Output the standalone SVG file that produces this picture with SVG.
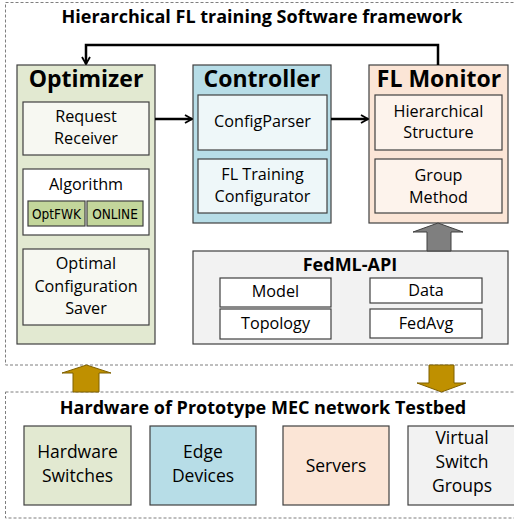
<svg xmlns="http://www.w3.org/2000/svg" width="514" height="520" viewBox="0 0 514 520">
<defs>
<marker id="chev" viewBox="0 0 10 10" refX="9" refY="5" markerWidth="10" markerHeight="10" markerUnits="userSpaceOnUse" orient="auto">
<path d="M2,1 L9,5 L2,9" fill="none" stroke="#000" stroke-width="1.8"/>
</marker>
<style>
text{font-family:"Open Sans","Liberation Sans",sans-serif;fill:#000;text-anchor:middle}
.t{font-weight:bold;font-size:18px}
.h{font-weight:bold;font-size:23px}
.s{font-size:16.2px}
.b{font-size:17.5px}
.o{font-size:13.5px;font-family:"Liberation Sans Narrow","DejaVu Sans Condensed",sans-serif}
.dash{fill:none;stroke:#7f7f7f;stroke-width:1;stroke-dasharray:3 2}
.box{stroke:#404040;stroke-width:1.2}
.conn{fill:none;stroke:#000;stroke-width:2.5}
</style>
</defs>
<rect class="dash" x="5.5" y="2.5" width="520" height="362.5"/>
<rect class="dash" x="5.5" y="392" width="520" height="126"/>
<text class="t" x="262" y="23">Hierarchical FL training Software framework</text>
<text class="t" x="263" y="414">Hardware of Prototype MEC network Testbed</text>

<g id="optimizer">
<rect class="box" x="17" y="65" width="138" height="279" fill="#e2e9d1"/>
<text class="h" x="86" y="87">Optimizer</text>
<rect class="box" x="23" y="102" width="126" height="53" fill="#f7f8f2"/>
<text class="s" x="86" y="122">Request</text>
<text class="s" x="86" y="144">Receiver</text>
<rect class="box" x="23" y="169" width="126" height="66" fill="#ffffff"/>
<text class="s" x="86" y="190">Algorithm</text>
<rect class="box" x="28" y="201" width="57" height="25" fill="#c3d69b"/>
<text class="o" x="56.5" y="218.5">OptFWK</text>
<rect class="box" x="87" y="201" width="56" height="25" fill="#c3d69b"/>
<text class="o" x="115" y="218.5">ONLINE</text>
<rect class="box" x="23" y="249" width="126" height="76" fill="#f7f8f2"/>
<text class="s" x="86" y="269">Optimal</text>
<text class="s" x="86" y="292">Configuration</text>
<text class="s" x="86" y="314">Saver</text>
</g>

<g id="controller">
<rect class="box" x="193" y="65" width="138" height="158" fill="#b7dde7"/>
<text class="h" x="262" y="87">Controller</text>
<rect class="box" x="198" y="95" width="129" height="55" fill="#eef7f9"/>
<text class="s" x="262.5" y="127">ConfigParser</text>
<rect class="box" x="198" y="159" width="129" height="54" fill="#eef7f9"/>
<text class="s" x="262.5" y="180">FL Training</text>
<text class="s" x="262.5" y="202">Configurator</text>
</g>

<g id="flmonitor">
<rect class="box" x="369" y="65" width="139" height="158" fill="#fbe5d6"/>
<text class="h" x="439" y="87">FL Monitor</text>
<rect class="box" x="375" y="95" width="127" height="55" fill="#fdf3ec"/>
<text class="s" x="438.5" y="117">Hierarchical</text>
<text class="s" x="438.5" y="138">Structure</text>
<rect class="box" x="375" y="159" width="127" height="54" fill="#fdf3ec"/>
<text class="s" x="438.5" y="181">Group</text>
<text class="s" x="438.5" y="203">Method</text>
</g>

<g id="fedml">
<rect class="box" x="193" y="251" width="315" height="93" fill="#f2f2f2"/>
<text class="t" x="350" y="271">FedML-API</text>
<rect class="box" x="220" y="278" width="111" height="29" fill="#ffffff"/>
<text class="s" x="275.5" y="297">Model</text>
<rect class="box" x="370" y="278" width="112" height="25" fill="#ffffff"/>
<text class="s" x="426" y="296">Data</text>
<rect class="box" x="220" y="309" width="111" height="30" fill="#ffffff"/>
<text class="s" x="275.5" y="329">Topology</text>
<rect class="box" x="370" y="309" width="112" height="29" fill="#ffffff"/>
<text class="s" x="426" y="329">FedAvg</text>
</g>

<g id="hw-switches">
<rect class="box" x="24" y="426" width="107" height="79" fill="#e2e9d1"/>
<text class="b" x="77.5" y="458">Hardware</text>
<text class="b" x="77.5" y="482">Switches</text>
</g>
<g id="edge-devices">
<rect class="box" x="150" y="426" width="106" height="79" fill="#b7dde7"/>
<text class="b" x="203" y="458">Edge</text>
<text class="b" x="203" y="482">Devices</text>
</g>
<g id="servers">
<rect class="box" x="283" y="426" width="106" height="79" fill="#fbe5d6"/>
<text class="b" x="336" y="472">Servers</text>
</g>
<g id="virtual-switch-groups">
<rect class="box" x="408" y="426" width="112" height="79" fill="#f2f2f2"/>
<text class="b" x="462" y="444">Virtual</text>
<text class="b" x="462" y="468">Switch</text>
<text class="b" x="462" y="492">Groups</text>
</g>

<g id="connectors">
<path class="conn" d="M438,65 V45 H86 V64" marker-end="url(#chev)"/>
<path class="conn" d="M155,119 H192" marker-end="url(#chev)"/>
<path class="conn" d="M331,119 H368" marker-end="url(#chev)"/>
<path d="M427,251 V232 H413 L438,223 L463,232 H451 V251 Z" fill="#7f7f7f" stroke="#404040" stroke-width="1"/>
<path d="M73,392 V373 H62 L86.5,365 L111,373 H99 V392 Z" fill="#bf9000" stroke="#7f6000" stroke-width="1"/>
<path d="M429,365 V383 H417 L441.5,392 L466,383 H454 V365 Z" fill="#bf9000" stroke="#7f6000" stroke-width="1"/>
</g>
</svg>
